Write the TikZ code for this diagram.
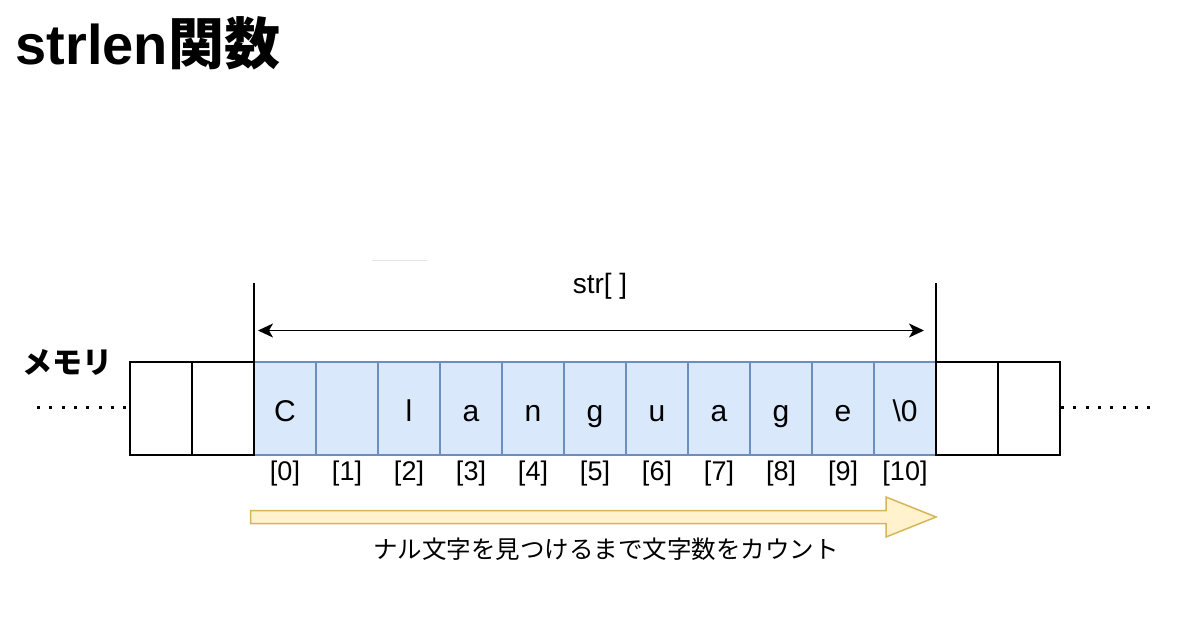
\documentclass[tikz,border=0pt]{standalone}
\usepackage{fontspec}
\setmainfont{Liberation Sans}
\newfontfamily\jpfont{Noto Sans CJK JP}
\usetikzlibrary{arrows.meta}
\definecolor{cellfill}{HTML}{DAE8FC}
\definecolor{celldraw}{HTML}{6C8EBF}
\definecolor{countfill}{HTML}{FFF2CC}
\definecolor{countdraw}{HTML}{D6B656}

\begin{document}
\begin{tikzpicture}[x=1pt,y=-1pt,
		memcell/.style={draw=black,fill=white,line width=1.5pt,minimum width=62pt,minimum height=93pt,inner sep=0pt,outer sep=0pt},
		strcell/.style={draw=celldraw,fill=cellfill,line width=1.5pt,minimum width=62pt,minimum height=93pt,inner sep=0pt,outer sep=0pt},
		chr/.style={anchor=base,font=\fontsize{30}{36}\selectfont},
		idx/.style={anchor=base,font=\fontsize{27}{32}\selectfont}]
		\useasboundingbox (0,0) rectangle (1186,634);
		\node[anchor=base west,font=\fontsize{56}{66}\selectfont\bfseries] (title) at (12,65) {strlen{\jpfont 関数}};
		\node[font=\jpfont\bfseries\fontsize{30}{36}\selectfont] (mem) at (67,362) {メモリ};
		\draw[gray!20,line width=1pt] (372,260) -- (427,260);
		\node[anchor=base,font=\fontsize{28}{34}\selectfont] (strlbl) at (600,293) {str[ ]};
		\foreach \c [count=\i from 0] in {C,{},l,a,n,g,u,a,g,e,\textbackslash 0} {
			\node[strcell] (s\i) at (285+62*\i,408.5) {};
			\node[chr] (ch\i) at (285+62*\i,421) {\c};
			\node[idx] (ix\i) at (285+62*\i,480) {[\i]};
		}
		\foreach \x [count=\j] in {161,223,967,1029}
			\node[memcell] (m\j) at (\x,408.5) {};
		\coordinate (lt) at (254,283);
		\coordinate (rt) at (936,283);
		\draw[line width=1.5pt] (lt) -- (s0.north west);
		\draw[line width=1.5pt] (rt) -- (s10.north east);
		\coordinate (al) at (258,330.5);
		\coordinate (ar) at (924,330.5);
		\draw[line width=1.5pt,{Stealth[length=15pt,width=14pt,inset=4pt]}-{Stealth[length=15pt,width=14pt,inset=4pt]}] (al) -- (ar);
		\coordinate (dl0) at (37,407);
		\coordinate (dl1) at (128,407);
		\coordinate (dr0) at (1061,407);
		\coordinate (dr1) at (1152,407);
		\draw[line width=3pt,dash pattern=on 3pt off 9.3pt] (dl0) -- (dl1);
		\draw[line width=3pt,dash pattern=on 3pt off 9.3pt] (dr0) -- (dr1);
		\filldraw[fill=countfill,draw=countdraw,line width=1.5pt] (250.5,510.5) -- (886,510.5) -- (886,497) -- (936,517) -- (886,537) -- (886,523.5) -- (250.5,523.5) -- cycle;
		\node[font=\jpfont\fontsize{24.5}{29}\selectfont] (cnt) at (606,549) {ナル文字を見つけるまで文字数をカウント};
	\end{tikzpicture}
\end{document}
